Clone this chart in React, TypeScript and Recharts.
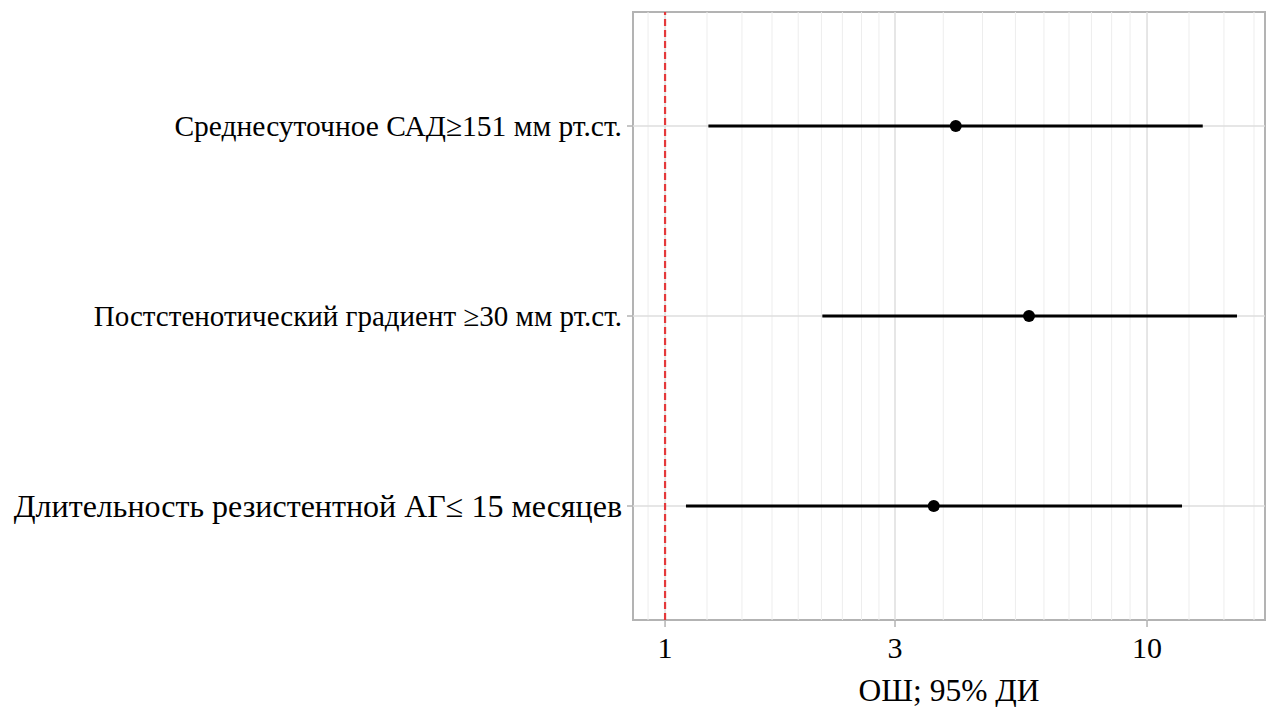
import React from "react";
import {
  ScatterChart,
  Scatter,
  XAxis,
  YAxis,
  ReferenceLine,
  ReferenceArea,
} from "recharts";

// rows, top to bottom
const labels = [
  "Среднесуточное САД≥151 мм рт.ст.",
  "Постстенотический градиент ≥30 мм рт.ст.",
  "Длительность резистентной АГ≤ 15 месяцев",
];
const rowPos = [3, 2, 1];
const oddsRatio = [4.01, 5.69, 3.61];
const ciLower = [1.23, 2.12, 1.105];
const ciUpper = [13.05, 15.37, 11.82];

const majorTicks = [1, 3, 10];
const minorTicks = [
  0.922, 1.222, 1.444, 1.667, 1.889, 2.111, 2.333, 2.556, 2.778, 3.778, 4.556,
  5.333, 6.111, 6.889, 7.667, 8.444, 9.222, 12.22, 14.44, 16.67,
];
const xDomain = [0.858, 17.57];
const yDomain = [0.4, 3.6];

const FONT = "'Liberation Serif', 'Times New Roman', serif";
const GRID = "#dedede";
const MINOR = "#ededed";
const BORDER = "#b3b3b3";
// label sizes differ slightly in the source image
const labelSizes = [29.5, 29, 32];

const points = rowPos.map((y, i) => ({ x: oddsRatio[i], y }));

function RowTick(props: any) {
  const { x, y, payload } = props;
  const i = rowPos.indexOf(payload.value);
  return (
    <text
      x={x}
      y={y}
      dy="0.35em"
      textAnchor="end"
      fontFamily={FONT}
      fontSize={labelSizes[i] ?? 29}
      fill="#000"
    >
      {labels[i] ?? ""}
    </text>
  );
}

export default function App() {
  return (
    <div style={{ position: "absolute", left: 0, top: 0, background: "#fff" }}>
      <ScatterChart
        width={1268}
        height={707}
        margin={{ top: 12, right: 3, left: 0, bottom: 0 }}
      >
        <XAxis
          type="number"
          dataKey="x"
          scale="log"
          domain={xDomain}
          allowDataOverflow
          ticks={majorTicks}
          axisLine={false}
          tickLine={{ stroke: BORDER, strokeWidth: 1.5 }}
          tickSize={7}
          tickMargin={10}
          height={87}
          tick={{ fontSize: 30, fill: "#000", fontFamily: FONT }}
          label={{
            value: "ОШ; 95% ДИ",
            position: "insideBottom",
            offset: 6,
            style: { fontSize: 31.5, fill: "#000", fontFamily: FONT },
          }}
        />
        <YAxis
          type="number"
          dataKey="y"
          domain={yDomain}
          allowDataOverflow
          ticks={rowPos}
          axisLine={false}
          tickLine={{ stroke: BORDER, strokeWidth: 1.5 }}
          tickSize={6}
          tickMargin={5}
          width={633}
          tick={<RowTick />}
        />
        {minorTicks.map((v) => (
          <ReferenceLine key={"m" + v} x={v} stroke={MINOR} strokeWidth={1} />
        ))}
        {majorTicks.map((v) => (
          <ReferenceLine key={"M" + v} x={v} stroke={GRID} strokeWidth={1.5} />
        ))}
        {rowPos.map((v) => (
          <ReferenceLine key={"h" + v} y={v} stroke={GRID} strokeWidth={1.5} />
        ))}
        <ReferenceLine
          x={1}
          stroke="#e4393b"
          strokeWidth={2.2}
          strokeDasharray="7 4"
        />
        {rowPos.map((y, i) => (
          <Scatter
            key={"ci" + i}
            data={[
              { x: ciLower[i], y },
              { x: ciUpper[i], y },
            ]}
            line={{ stroke: "#000", strokeWidth: 2.8 }}
            shape={() => <g />}
            isAnimationActive={false}
          />
        ))}
        <Scatter
          data={points}
          fill="#000"
          shape={(p: any) => <circle cx={p.cx} cy={p.cy} r={6} fill="#000" />}
          isAnimationActive={false}
        />
        <ReferenceArea
          x1={xDomain[0]}
          x2={xDomain[1]}
          y1={yDomain[0]}
          y2={yDomain[1]}
          fill="none"
          stroke={BORDER}
          strokeWidth={2}
          ifOverflow="visible"
        />
      </ScatterChart>
    </div>
  );
}
